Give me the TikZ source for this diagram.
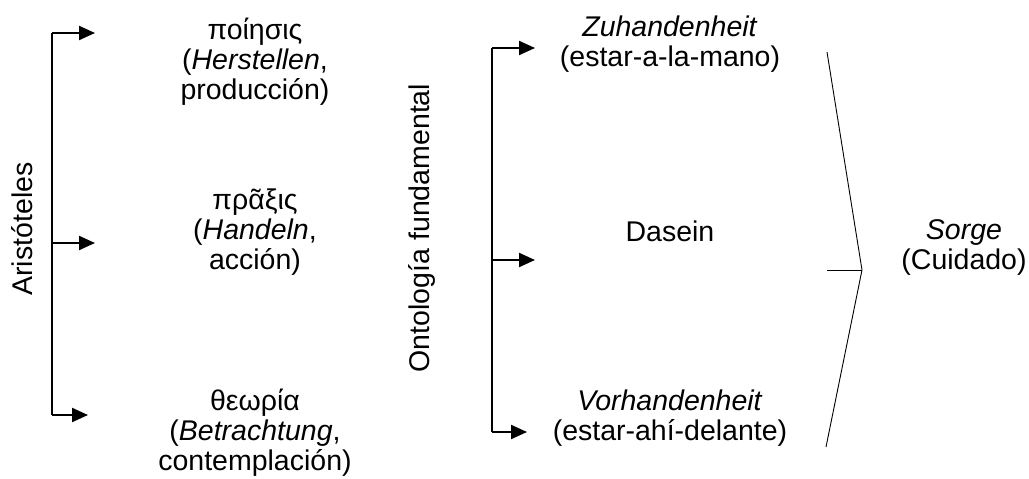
\documentclass[tikz,border=0pt]{standalone}
\usepackage{fontspec}
\setmainfont{Liberation Sans}
\usetikzlibrary{arrows.meta}
\begin{document}
\begin{tikzpicture}[x=1pt,y=-1pt,
  lbl/.style={font=\fontsize{28.5}{30}\selectfont, align=center, inner sep=0pt},
  brace/.style={line width=1.6pt},
  branch/.style={line width=2.2pt, -{Triangle[length=16pt,width=14pt]}},
  thin/.style={line width=0.9pt}]
\useasboundingbox (0,0) rectangle (1029,479);

% Aristotle column
\node[lbl, rotate=90] (arist) at (22,229) {Aristóteles};
\node[lbl] (poiesis) at (255,62) {ποίησις\\(\textit{Herstellen},\\producción)};
\node[lbl] (praxis) at (255,232) {πρᾶξις\\(\textit{Handeln},\\acción)};
\node[lbl] (theoria) at (255,433) {θεωρία\\(\textit{Betrachtung},\\contemplación)};

\coordinate (a1) at (52,33);
\coordinate (a2) at (52,243);
\coordinate (a3) at (52,415);
\coordinate (ta1) at (95,33);
\coordinate (ta2) at (95,243);
\coordinate (ta3) at (88,415);
\draw[brace] (a1) -- (a3);
\draw[branch] (a1) -- (ta1);
\draw[branch] (a2) -- (ta2);
\draw[branch] (a3) -- (ta3);

% Fundamental ontology column
\node[lbl, rotate=90] (onto) at (422,228) {Ontología fundamental};
\node[lbl] (zuh) at (670,44) {\textit{Zuhandenheit}\\(estar-a-la-mano)};
\node[lbl] (dasein) at (670,231) {Dasein};
\node[lbl] (vor) at (670,418) {\textit{Vorhandenheit}\\(estar-ahí-delante)};

\coordinate (b1) at (492,48);
\coordinate (b2) at (492,260);
\coordinate (b3) at (492,432);
\coordinate (tb1) at (535,48);
\coordinate (tb2) at (535,260);
\coordinate (tb3) at (527,432);
\draw[brace] (b1) -- (b3);
\draw[branch] (b1) -- (tb1);
\draw[branch] (b2) -- (tb2);
\draw[branch] (b3) -- (tb3);

% Care
\node[lbl] (sorge) at (964,247) {\textit{Sorge}\\(Cuidado)};
\coordinate (c1) at (827,52);
\coordinate (cv) at (862,270);
\coordinate (c3) at (826,447);
\coordinate (ct) at (827,270);
\draw[thin] (c1) -- (cv) -- (c3);
\draw[thin] (ct) -- (cv);
\end{tikzpicture}
\end{document}
